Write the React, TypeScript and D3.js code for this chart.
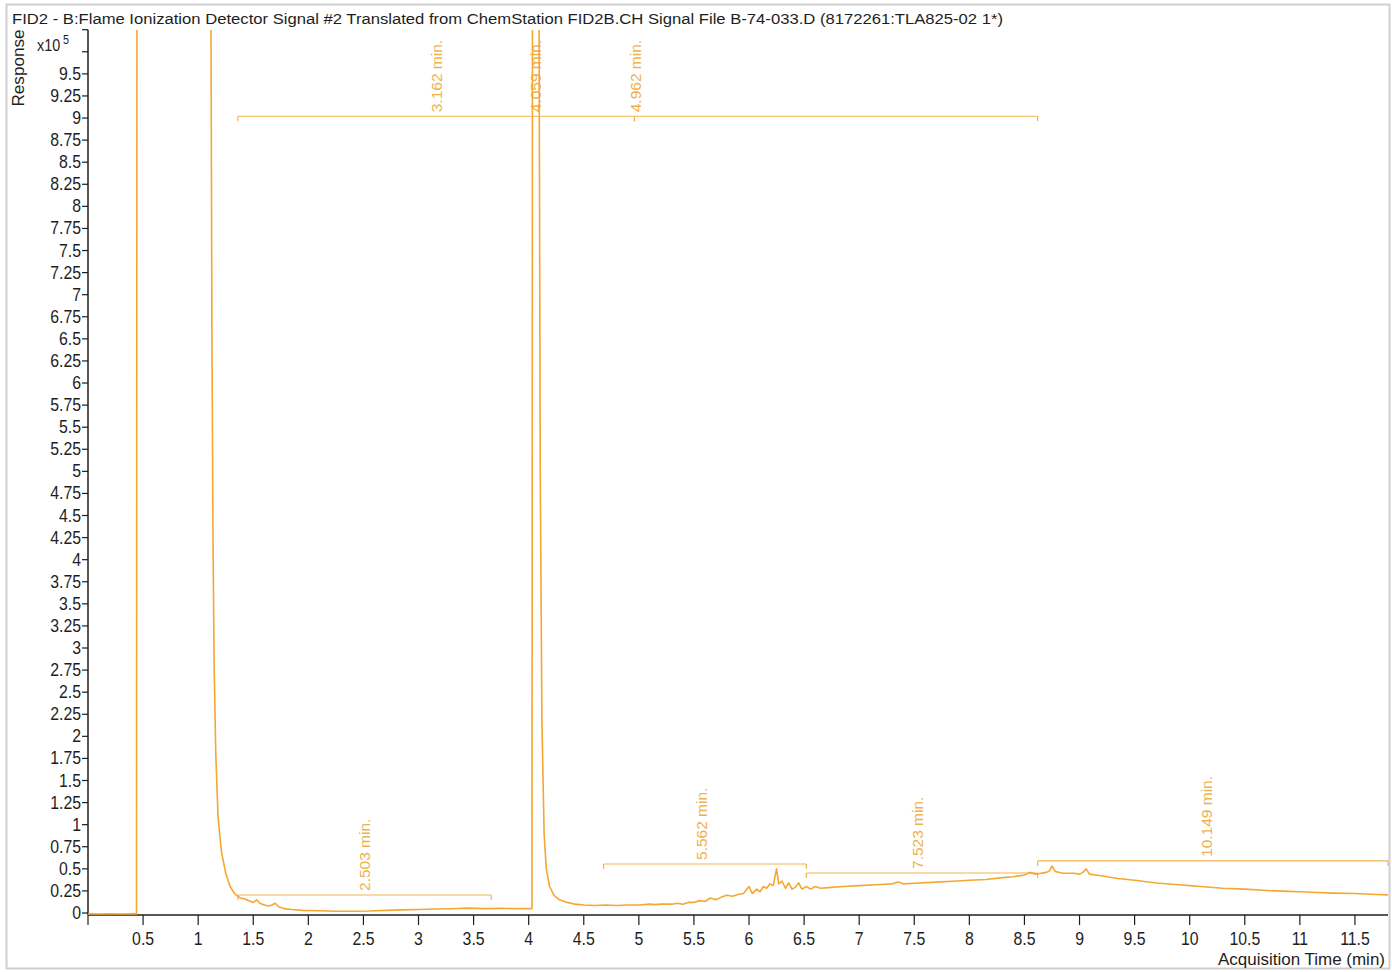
import React from "react";
import * as d3 from "d3";

const TITLE =
  "FID2 - B:Flame Ionization Detector Signal #2 Translated from ChemStation FID2B.CH Signal File B-74-033.D (8172261:TLA825-02 1*)";

// Acquisition time (min)
const times = [
  0, 0.1, 0.2, 0.3, 0.4, 0.44, 0.445, 0.6, 1.0, 1.11, 1.117, 1.125, 1.135, 1.145, 1.16, 1.18, 1.21, 1.25, 1.29, 1.33,
  1.38, 1.42, 1.46, 1.5, 1.53, 1.56, 1.6, 1.64, 1.67, 1.7, 1.73, 1.78, 1.85, 1.95, 2.1, 2.25, 2.4, 2.55, 2.7, 2.85,
  3.0, 3.15, 3.3, 3.45, 3.6, 3.75, 3.9, 4.03, 4.035, 4.09, 4.095, 4.105, 4.12, 4.14, 4.16, 4.19, 4.23, 4.28, 4.35, 4.42,
  4.5, 4.6, 4.7, 4.8, 4.9, 5.0, 5.1, 5.15, 5.2, 5.3, 5.35, 5.4, 5.45, 5.5, 5.55, 5.6, 5.65, 5.7, 5.75, 5.8,
  5.85, 5.9, 5.95, 6.0, 6.03, 6.07, 6.1, 6.13, 6.16, 6.19, 6.22, 6.25, 6.27, 6.3, 6.33, 6.36, 6.39, 6.42, 6.45, 6.48,
  6.52, 6.56, 6.6, 6.65, 6.75, 6.85, 7.0, 7.15, 7.3, 7.35, 7.4, 7.55, 7.7, 7.85, 8.0, 8.15, 8.3, 8.4, 8.5, 8.55,
  8.6, 8.65, 8.7, 8.73, 8.75, 8.78, 8.85, 8.95, 9.0, 9.03, 9.06, 9.09, 9.15, 9.25, 9.35, 9.5, 9.7, 9.9, 10.0, 10.1,
  10.3, 10.5, 10.7, 10.9, 11.0, 11.1, 11.3, 11.5, 11.7, 11.8,
];

// Response (x10^5)
const responses = [
  -0.01, -0.012, -0.01, -0.011, -0.01, -0.01, 12, 12, 12, 12, 9.8, 6.5, 4.2, 2.8, 1.8, 1.1, 0.7, 0.45, 0.3, 0.22,
  0.17, 0.16, 0.14, 0.12, 0.15, 0.11, 0.09, 0.08, 0.09, 0.11, 0.07, 0.05, 0.04, 0.03, 0.025, 0.02, 0.02, 0.022, 0.03, 0.035,
  0.04, 0.045, 0.048, 0.055, 0.05, 0.052, 0.05, 0.05, 12, 12, 9.8, 5, 2.2, 0.9, 0.5, 0.3, 0.2, 0.15, 0.12, 0.1,
  0.09, 0.085, 0.09, 0.085, 0.09, 0.09, 0.1, 0.095, 0.1, 0.1, 0.11, 0.1, 0.12, 0.12, 0.14, 0.13, 0.17, 0.15, 0.18, 0.2,
  0.19, 0.21, 0.22, 0.3, 0.22, 0.27, 0.24, 0.3, 0.28, 0.33, 0.31, 0.5, 0.33, 0.36, 0.28, 0.34, 0.27, 0.29, 0.34, 0.27,
  0.3, 0.27, 0.3, 0.28, 0.29, 0.3, 0.31, 0.32, 0.33, 0.35, 0.33, 0.34, 0.35, 0.36, 0.37, 0.38, 0.4, 0.41, 0.43, 0.46,
  0.44, 0.45, 0.46, 0.48, 0.53, 0.47, 0.45, 0.45, 0.44, 0.46, 0.5, 0.44, 0.43, 0.41, 0.39, 0.37, 0.34, 0.32, 0.31, 0.3,
  0.28, 0.27, 0.255, 0.245, 0.24, 0.235, 0.225, 0.22, 0.21, 0.205,
];

// Integration annotations: label, label time, line start, line end, line level (x10^5)
const annLabels = ["2.503 min.", "3.162 min.", "4.059 min.", "4.962 min.", "5.562 min.", "7.523 min.", "10.149 min."];
const annLabelTimes = [2.503, 3.162, 4.059, 4.962, 5.562, 7.523, 10.149];
const annStarts = [1.36, 1.36, 4.06, 4.96, 4.68, 6.52, 8.62];
const annEnds = [3.66, 4.96, 4.06, 8.62, 6.52, 8.62, 11.8];
const annLevels = [0.204, 9.02, 9.02, 9.02, 0.555, 0.453, 0.589];

const xTicks = d3.range(0, 11.51, 0.5);
const yTicks = d3.range(0, 10.01, 0.25);

const SIGNAL = "#F5A731";
const ANN = "#F3B44F";
const LABEL = "#EEB24C";
const FONT = "'Liberation Sans', Arial, sans-serif";
const INK = "#1e1e1e";

export default function App() {
  const x = d3.scaleLinear().domain([0, 11.8]).range([88, 1388]);
  const y = d3.scaleLinear().domain([0, 10]).range([913, 29.7]);
  const axisY = 915;

  const pts: [number, number][] = times.map((t, i) => [t, responses[i]]);
  const line = d3
    .line<[number, number]>()
    .x((d) => x(d[0]))
    .y((d) => y(d[1]));

  const fmt = (v: number) => String(+v.toFixed(2));
  const SX = 0.88;
  const TFS = 18;

  return (
    <svg
      width={1392}
      height={972}
      style={{ position: "absolute", left: 0, top: 0, background: "#fff" }}
      fontFamily={FONT}
    >
      <rect x={0} y={0} width={1392} height={972} fill="#fff" />
      <rect x={6.5} y={4.5} width={1383} height={964} fill="none" stroke="#cfcfcf" strokeWidth={2} />
      <text x={12} y={24} fontSize={15.5} fill={INK} textLength={991} lengthAdjust="spacingAndGlyphs">
        {TITLE}
      </text>

      <defs>
        <clipPath id="plotclip">
          <rect x={88} y={30} width={1301} height={886} />
        </clipPath>
      </defs>

      {/* Y axis label */}
      <text
        transform="translate(24,68) rotate(-90)"
        textAnchor="middle"
        fontSize={16}
        fill={INK}
        textLength={77}
        lengthAdjust="spacingAndGlyphs"
      >
        Response
      </text>
      <text transform="translate(37,51) scale(0.9,1)" fontSize={16} fill={INK}>
        x10
        <tspan dx={3} dy={-7} fontSize={12}>
          5
        </tspan>
      </text>

      {/* Y axis */}
      <line x1={88} x2={88} y1={y(10)} y2={axisY} stroke={INK} strokeWidth={1.5} />
      {yTicks.map((v) => (
        <g key={"y" + v}>
          <line x1={82} x2={88} y1={y(v)} y2={y(v)} stroke={INK} strokeWidth={1.2} />
          {v <= 9.5 && (
            <text
              transform={`translate(81,${y(v) + 6}) scale(${SX},1)`}
              textAnchor="end"
              fontSize={TFS}
              fill={INK}
            >
              {fmt(v)}
            </text>
          )}
        </g>
      ))}

      {/* X axis */}
      <line x1={88} x2={1388} y1={axisY} y2={axisY} stroke={INK} strokeWidth={1.5} />
      {xTicks.map((v) => (
        <g key={"x" + v}>
          <line x1={x(v)} x2={x(v)} y1={axisY} y2={axisY + 10} stroke={INK} strokeWidth={1.2} />
          {v > 0 && (
            <text
              transform={`translate(${x(v)},945) scale(${SX},1)`}
              textAnchor="middle"
              fontSize={TFS}
              fill={INK}
            >
              {fmt(v)}
            </text>
          )}
        </g>
      ))}
      <text
        x={1385}
        y={965}
        textAnchor="end"
        fontSize={17}
        fill={INK}
        textLength={167}
        lengthAdjust="spacingAndGlyphs"
      >
        Acquisition Time (min)
      </text>

      {/* Annotations */}
      {annLabels.map((lab, i) => {
        const ly = y(annLevels[i]);
        const x1 = x(annStarts[i]);
        const x2 = x(annEnds[i]);
        const lx = x(annLabelTimes[i]);
        return (
          <g key={lab}>
            {x2 > x1 && (
              <>
                <line x1={x1} x2={x2} y1={ly} y2={ly} stroke={ANN} strokeWidth={1.2} />
                <line x1={x1} x2={x1} y1={ly} y2={ly + 5} stroke={ANN} strokeWidth={1.2} />
                <line x1={x2} x2={x2} y1={ly} y2={ly + 5} stroke={ANN} strokeWidth={1.2} />
              </>
            )}
            <text transform={`translate(${lx + 6},${ly - 4}) rotate(-90)`} fontSize={15.5} fill={LABEL}>
              {lab}
            </text>
          </g>
        );
      })}

      {/* Signal */}
      <g clipPath="url(#plotclip)">
        <path d={line(pts) || ""} fill="none" stroke={SIGNAL} strokeWidth={1.6} strokeLinejoin="round" />
      </g>
    </svg>
  );
}
